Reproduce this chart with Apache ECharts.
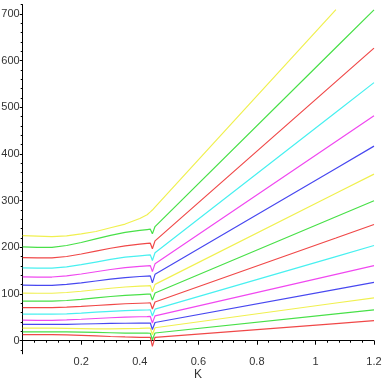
<!DOCTYPE html>
<html><head><meta charset="utf-8">
<script src="https://cdn.jsdelivr.net/npm/echarts@6/dist/echarts.min.js"></script>
<style>html,body{margin:0;padding:0;background:#fff}#c{width:384px;height:384px}</style>
</head><body><div id="c"></div>
<script>
// K sample points
const K = [0, 0.05, 0.1, 0.15, 0.2, 0.25, 0.3, 0.35, 0.4, 0.425, 0.436, 0.443, 0.452, 1.07, 1.2];
// series values (bottom to top)
const s01 = [13, 13.1, 13.1, 12.5, 11.5, 10.3, 9.1, 8.1, 7.4, 7.1, 7, -12, 7.4, 36.8, 43];
const s02 = [19, 19.1, 19.1, 18.8, 18.3, 17.7, 17.1, 16.5, 16.2, 16.1, 16, 2, 16.6, 57.4, 66];
const s03 = [27, 27, 27, 26.5, 26, 25.5, 25.5, 26, 26.5, 27, 27, 13, 27.8, 80.9, 92];
const s04 = [35, 34.9, 34.9, 35.2, 35.8, 36.4, 37, 37.5, 37.8, 37.9, 38, 24, 39, 110, 125];
const s05 = [44, 43.8, 43.8, 44.6, 46, 47.6, 49.2, 50.6, 51.4, 51.8, 52, 38, 53.3, 142.3, 161];
const s06 = [57, 56.8, 56.8, 57.7, 59.3, 61.1, 62.9, 64.4, 65.4, 65.8, 66, 53, 67.6, 180.3, 204];
const s07 = [71, 70.8, 70.8, 71.8, 73.5, 75.5, 77.5, 79.2, 80.3, 80.8, 81, 68, 83, 220.1, 249];
const s08 = [85, 84.7, 84.7, 86.2, 88.8, 91.8, 94.8, 97.3, 99, 99.7, 100, 87, 102.4, 265.7, 300];
const s09 = [102, 101.7, 101.7, 103.3, 106, 109.2, 112.4, 115.1, 116.9, 117.7, 118, 105, 120.8, 315.9, 357];
const s10 = [119, 118.6, 118.6, 120.6, 124, 128, 132, 135.4, 137.6, 138.6, 139, 124, 142.3, 369.2, 417];
const s11 = [137, 136.5, 136.5, 138.9, 143, 147.8, 152.6, 156.7, 159.3, 160.5, 161, 148, 164.8, 426.9, 482];
const s12 = [156, 155.4, 155.4, 158.2, 163, 168.6, 174.2, 179, 182, 183.4, 184, 172, 188.4, 489.6, 553];
const s13 = [178, 177.4, 177.4, 180.5, 185.8, 192, 198.2, 203.4, 206.8, 208.4, 209, 197, 214, 555.2, 627];
const s14 = [201, 200.2, 200.2, 204, 210.5, 218.1, 225.7, 232.2, 236.3, 238.2, 239, 229, 244.6, 628.3, 709];
const s15 = [225, 224, 223, 224.5, 229, 234, 242, 250, 262, 270, 276, 280, 286.2, 709.5, null];
const seriesValues = [s01, s02, s03, s04, s05, s06, s07, s08, s09, s10, s11, s12, s13, s14, s15];
// tick labels
const yLabels = [0, 100, 200, 300, 400, 500, 600, 700];
const xLabels = [0.2, 0.4, 0.6, 0.8, 1, 1.2];
const xName = 'K';

const palette = ['#f04848', '#48e048', '#f0f050', '#4848f0', '#f048f0', '#48f0f0'];
const yMinor = [];
for (let v = -20; v <= 720; v += 20) if (v % 100 !== 0) yMinor.push(v);

const chart = echarts.init(document.getElementById('c'), null, {renderer: 'canvas'});
const font = 'Liberation Sans, Arial, sans-serif';
chart.setOption({
  animation: false,
  backgroundColor: '#fff',
  title: {
    text: xName, left: 194, top: 369,
    padding: 0,
    textStyle: {color: '#333', fontFamily: font, fontSize: 12, fontWeight: 'normal', lineHeight: 12}
  },
  grid: {left: 22.7, right: 10, top: 4.7, bottom: 30.2, containLabel: false, outerBoundsMode: 'none'},
  xAxis: {
    type: 'value', min: 0, max: 1.2, interval: 0.2,
    axisLine: {onZero: true, lineStyle: {color: '#000', width: 1}},
    axisTick: {show: true, length: 4, lineStyle: {color: '#000'}},
    minorTick: {show: true, splitNumber: 5, length: 2, lineStyle: {color: '#000'}},
    splitLine: {show: false},
    axisLabel: {
      color: '#333', fontFamily: font, fontSize: 11, margin: 3,
      customValues: xLabels,
      formatter: v => String(+v.toFixed(1))
    }
  },
  yAxis: [{
    type: 'value', min: -28, max: 720,
    axisLine: {show: true, onZero: false, lineStyle: {color: '#000', width: 1}},
    axisTick: {show: true, length: 3, customValues: yLabels, lineStyle: {color: '#000'}},
    splitLine: {show: false},
    axisLabel: {color: '#333', fontFamily: font, fontSize: 11, margin: 3, customValues: yLabels}
  }, {
    type: 'value', min: -28, max: 720, position: 'left',
    axisLine: {show: false},
    axisTick: {show: true, length: 2, customValues: yMinor, lineStyle: {color: '#000'}},
    splitLine: {show: false},
    axisLabel: {show: false}
  }],
  series: seriesValues.map((vals, i) => ({
    type: 'line',
    yAxisIndex: 0,
    showSymbol: false,
    symbol: 'none',
    connectNulls: false,
    data: K.map((k, j) => [k, vals[j]]),
    lineStyle: {color: palette[i % 6], width: 1.2},
    itemStyle: {color: palette[i % 6]}
  }))
});
</script>
</body></html>
